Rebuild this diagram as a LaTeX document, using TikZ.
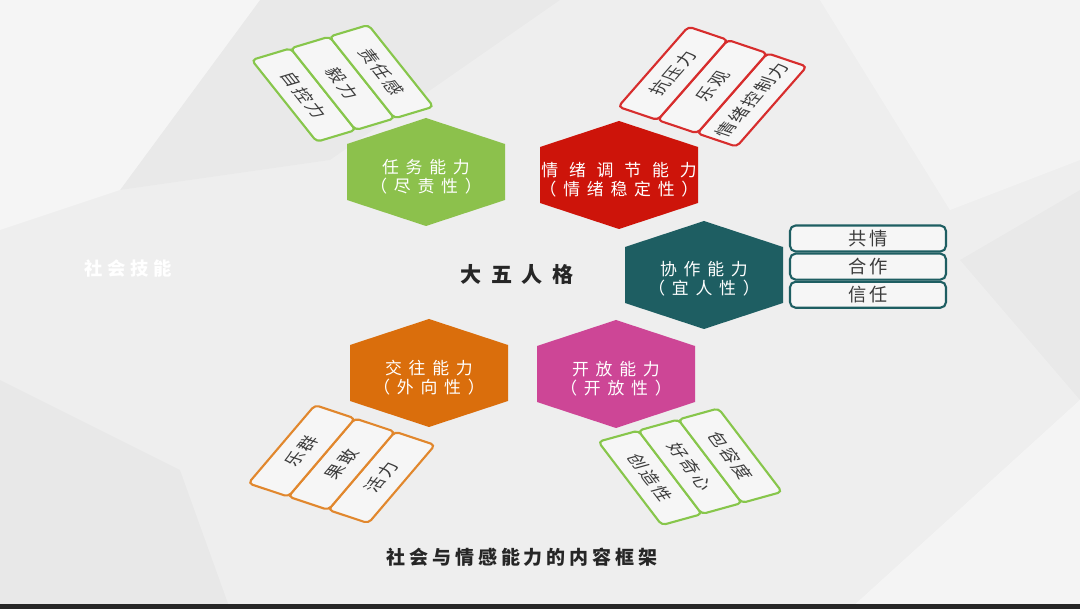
\documentclass[tikz,border=0pt]{standalone}
\usepackage{fontspec}
\newfontfamily\cjk{Noto Sans CJK SC}
\usepackage{tikz}
\usetikzlibrary{positioning}
\definecolor{bgray}{RGB}{238,238,238}
\definecolor{tagfill}{RGB}{246,246,246}
\definecolor{hgreen}{RGB}{140,193,76}
\definecolor{hred}{RGB}{205,20,10}
\definecolor{hteal}{RGB}{30,94,98}
\definecolor{hpink}{RGB}{205,70,150}
\definecolor{horange}{RGB}{218,110,12}
\definecolor{lgreen}{RGB}{135,198,75}
\definecolor{lred}{RGB}{215,45,45}
\definecolor{lorange}{RGB}{225,135,45}
\definecolor{tagtext}{RGB}{60,60,60}
\tikzset{hexa/.pic={\fill[#1] (0,-54) -- (79,-28) -- (79,28) -- (0,54) -- (-79,28) -- (-79,-28) -- cycle;}}

\begin{document}
\begin{tikzpicture}[x=0.025cm,y=-0.025cm,
 hextxt/.style={text=white,align=center,inner sep=0pt,font=\cjk\fontsize{12}{13.5}\selectfont\addfontfeatures{LetterSpace=40}},
 tagbox/.style={draw,line width=1.5pt,rounded corners=3pt,fill=tagfill,text=tagtext,transform shape,inner sep=0pt,font=\cjk\fontsize{12.5}{13}\selectfont\addfontfeatures{LetterSpace=12}},
 listbox/.style={draw=hteal,line width=1.5pt,rounded corners=4pt,fill=tagfill,text=tagtext,minimum width=3.9cm,minimum height=0.65cm,inner sep=0pt,font=\cjk\fontsize{13}{14}\selectfont\addfontfeatures{LetterSpace=18}},
 ttl/.style={text=black!85,inner sep=0pt,font=\cjk\bfseries\fontsize{15}{18}\selectfont\addfontfeatures{LetterSpace=45}}]
\useasboundingbox (0,0) rectangle (1080,609);
% background
\fill[bgray] (0,0) rectangle (1080,609);
\fill[white,opacity=0.45] (0,0) -- (260,0) -- (120,190) -- (0,230) -- cycle;
\fill[black,opacity=0.02] (260,0) -- (560,0) -- (330,160) -- (120,190) -- cycle;
\fill[white,opacity=0.35] (820,0) -- (1080,0) -- (1080,160) -- (950,210) -- cycle;
\fill[black,opacity=0.025] (0,380) -- (180,470) -- (230,609) -- (0,609) -- cycle;
\fill[white,opacity=0.4] (850,609) -- (1080,400) -- (1080,609) -- cycle;
\fill[black,opacity=0.02] (960,260) -- (1080,190) -- (1080,400) -- cycle;
\fill[black!85] (0,604) rectangle (1080,609);
\node[text=white,inner sep=0pt,font=\cjk\bfseries\fontsize{13}{15}\selectfont\addfontfeatures{LetterSpace=25}] (skill) at (128,268) {社会技能};

% hexagons
\pic at (426,172) {hexa=hgreen};
\node[hextxt] (task) at (426,177) {任务能力\\（尽责性）};
\pic at (619,175) {hexa=hred};
\node[hextxt] (emo) at (619,180) {{\addfontfeatures{LetterSpace=64}情绪调节能力}\\（情绪稳定性）};
\pic at (704,275) {hexa=hteal};
\node[hextxt] (collab) at (704,279) {协作能力\\（宜人性）};
\pic at (429,373) {hexa=horange};
\node[hextxt] (social) at (429,378) {交往能力\\（外向性）};
\pic at (616,374) {hexa=hpink};
\node[hextxt] (open) at (616,379) {开放能力\\（开放性）};
\node[ttl] (big5) at (517,274) {大五人格};

% tag groups
\begin{scope}[shift={(251.7,60)},cm={0.623,-0.783,0.958,0.288,(0,0)},x=0.025cm,y=0.025cm,
 tagbox/.append style={draw=lgreen,minimum width=2.61cm,minimum height=1.015cm}]
\node[tagbox] (g1) at (52.2,20.3) {自控力};
\node[tagbox] (g2) at (52.2,60.9) {毅力};
\node[tagbox] (g3) at (52.2,101.5) {责任感};
\end{scope}
\begin{scope}[shift={(736.7,146.7)},cm={0.659,0.753,-0.947,0.319,(0,0)},x=0.025cm,y=0.025cm,
 tagbox/.append style={draw=lred,minimum width=2.66cm,minimum height=1.04cm}]
\node[tagbox] (r1) at (53.2,20.9) {情绪控制力};
\node[tagbox] (r2) at (53.2,62.6) {乐观};
\node[tagbox] (r3) at (53.2,104.3) {抗压力};
\end{scope}
\begin{scope}[shift={(368.3,523.3)},cm={0.648,0.761,-0.948,0.315,(0,0)},x=0.025cm,y=0.025cm,
 tagbox/.append style={draw=lorange,minimum width=2.57cm,minimum height=1.055cm}]
\node[tagbox] (o1) at (51.5,21.1) {活力};
\node[tagbox] (o2) at (51.5,63.3) {果敢};
\node[tagbox] (o3) at (51.5,105.5) {乐群};
\end{scope}
\begin{scope}[shift={(598.3,441.7)},cm={0.606,-0.796,0.964,0.267,(0,0)},x=0.025cm,y=0.025cm,
 tagbox/.append style={draw=lgreen,minimum width=2.62cm,minimum height=1.04cm}]
\node[tagbox] (p1) at (52.4,20.8) {创造性};
\node[tagbox] (p2) at (52.4,62.3) {好奇心};
\node[tagbox] (p3) at (52.4,103.8) {包容度};
\end{scope}

% list beside collab
\node[listbox] (emp) at (868,238.5) {共情};
\node[listbox,below=0pt of emp] (coop) {合作};
\node[listbox,below=0pt of coop] (trust) {信任};

\node[ttl,font=\cjk\bfseries\fontsize{13.5}{16}\selectfont\addfontfeatures{LetterSpace=21}] (cap) at (522,557) {社会与情感能力的内容框架};
\end{tikzpicture}
\end{document}
